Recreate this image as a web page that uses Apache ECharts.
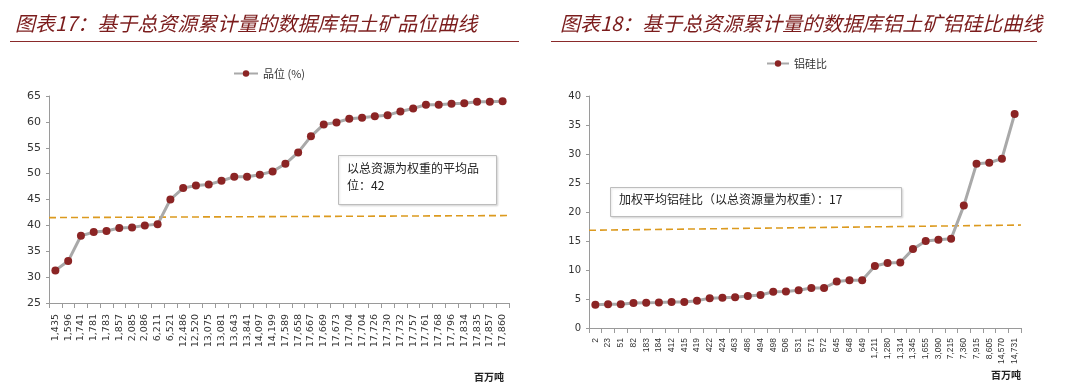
<!DOCTYPE html>
<html><head><meta charset="utf-8">
<script src="https://cdn.jsdelivr.net/npm/echarts@6/dist/echarts.min.js"></script>
<style>html,body{margin:0;padding:0;background:#fff}#c{width:1085px;height:392px}</style>
</head><body><div id="c"></div>
<script>
const cats1 = ['1,435','1,596','1,741','1,781','1,783','1,857','2,085','2,086','6,211','6,521','12,486','12,520','13,075','13,081','13,643','13,841','14,097','14,199','17,589','17,658','17,667','17,669','17,673','17,704','17,704','17,726','17,730','17,732','17,757','17,761','17,768','17,796','17,834','17,835','17,857','17,860'];
const grade = [31.3,33.1,38.0,38.7,38.9,39.5,39.6,40.0,40.2,45.0,47.2,47.7,47.9,48.6,49.4,49.4,49.8,50.4,51.9,54.1,57.2,59.5,59.9,60.6,60.8,61.1,61.3,62.0,62.6,63.3,63.3,63.5,63.6,63.9,63.9,64.0];
const avg1 = [41.5, 41.9];
const yTicks1 = {min:25, max:65, interval:5};

const cats2 = ['2','23','51','82','183','184','412','415','419','422','424','463','486','494','498','506','531','571','572','645','648','649','1,211','1,280','1,314','1,345','1,655','3,090','7,215','7,360','7,915','8,605','14,570','14,731'];
const ratio = [4.0,4.1,4.1,4.3,4.35,4.4,4.5,4.5,4.7,5.15,5.2,5.3,5.5,5.7,6.25,6.3,6.5,6.9,6.9,8.0,8.25,8.25,10.7,11.2,11.3,13.6,15.0,15.2,15.4,21.1,28.3,28.5,29.2,36.9];
const avg2 = [16.85, 17.75];
const yTicks2 = {min:0, max:40, interval:5};

const title1 = '图表17：基于总资源累计量的数据库铝土矿品位曲线';
const title2 = '图表18：基于总资源累计量的数据库铝土矿铝硅比曲线';
const note1 = ['以总资源为权重的平均品', '位：42'];
const note2 = '加权平均铝硅比（以总资源量为权重）：17';

const RED = '#8B2424', GREY = '#a9a9a9', ORANGE = '#dc9a1f', AX = '#9a9a9a', TXT = '#333';
const cjk = '"Noto Sans CJK SC", sans-serif';
const tfont = 'Verdana, "DejaVu Sans", sans-serif';
const nfont = '"Liberation Sans", Arial, sans-serif';

function catAxis(i, cats, fs, ff, margin){
  return {type:'category', gridIndex:i, data:cats, boundaryGap:true,
    axisLine:{lineStyle:{color:AX}}, axisTick:{show:true, interval:0, length:5, lineStyle:{color:AX}},
    axisLabel:{rotate:90, interval:0, fontSize:fs, color:TXT, fontFamily:ff, margin:margin}};
}
function hidAxis(i){ return {type:'value', gridIndex:i, min:0, max:1, show:false}; }
function valAxis(i, t, fs){
  return {type:'value', gridIndex:i, min:t.min, max:t.max, interval:t.interval,
    axisLine:{show:true, lineStyle:{color:AX}}, axisTick:{show:true, length:3, lineStyle:{color:AX}},
    splitLine:{show:false}, axisLabel:{fontSize:fs, color:TXT, fontFamily:tfont, margin:8}};
}
function lineSeries(name, data, xi, yi){
  return {name, type:'line', xAxisIndex:xi, yAxisIndex:yi, data, symbol:'circle', symbolSize:8,
    lineStyle:{color:GREY, width:3}, itemStyle:{color:RED}, z:3};
}
function avgSeries(v, xi, yi){
  return {type:'line', xAxisIndex:xi, yAxisIndex:yi, data:[[0,v[0]],[1,v[1]]], symbol:'none',
    lineStyle:{color:ORANGE, width:1.6, type:[7,4]}, silent:true, z:2};
}

const chart = echarts.init(document.getElementById('c'), null, {renderer:'canvas'});
chart.setOption({
  animation:false,
  title:[
    {text:title1, left:10, top:8, textStyle:{color:'#7b1c1c', fontSize:20, fontWeight:'normal', fontStyle:'italic', fontFamily:cjk}},
    {text:title2, left:555, top:8, textStyle:{color:'#7b1c1c', fontSize:20, fontWeight:'normal', fontStyle:'italic', fontFamily:cjk}}
  ],
  legend:[
    {data:['品位 (%)'], left:228, top:63, itemWidth:24, itemHeight:8, itemGap:3,
      textStyle:{fontSize:11, color:TXT, fontFamily:cjk}},
    {data:['铝硅比'], left:761, top:53, itemWidth:22, itemHeight:8, itemGap:3,
      textStyle:{fontSize:11, color:TXT, fontFamily:cjk}}
  ],
  grid:[
    {left:49, right:576, top:96, bottom:89},
    {left:589, right:64, top:96, bottom:64}
  ],
  xAxis:[catAxis(0, cats1, 9.5, tfont, 11), hidAxis(0), catAxis(1, cats2, 8.5, nfont, 10), hidAxis(1)],
  yAxis:[valAxis(0, yTicks1, 11), valAxis(1, yTicks2, 10)],
  series:[
    avgSeries(avg1, 1, 0),
    lineSeries('品位 (%)', grade, 0, 0),
    avgSeries(avg2, 3, 1),
    lineSeries('铝硅比', ratio, 2, 1)
  ],
  graphic:[
    {type:'line', shape:{x1:10, y1:41.5, x2:519, y2:41.5}, style:{stroke:'#8a2a2a', lineWidth:1}},
    {type:'line', shape:{x1:551, y1:41.5, x2:1037, y2:41.5}, style:{stroke:'#8a2a2a', lineWidth:1}},
    {type:'rect', shape:{x:338.5, y:155.5, width:158, height:49}, style:{fill:'#fff', stroke:'#bdbdbd', lineWidth:1, shadowBlur:2, shadowColor:'rgba(0,0,0,0.12)', shadowOffsetX:1, shadowOffsetY:1}, z:10},
    {type:'text', left:347, top:162, style:{text:note1[0], fontSize:12, fill:'#222', fontFamily:cjk}, z:11},
    {type:'text', left:347, top:179, style:{text:note1[1], fontSize:12, fill:'#222', fontFamily:cjk}, z:11},
    {type:'rect', shape:{x:610.5, y:187.5, width:291, height:29}, style:{fill:'#fff', stroke:'#bdbdbd', lineWidth:1, shadowBlur:2, shadowColor:'rgba(0,0,0,0.12)', shadowOffsetX:1, shadowOffsetY:1}, z:10},
    {type:'text', left:619, top:193, style:{text:note2, fontSize:12, fill:'#222', fontFamily:cjk}, z:11},
    {type:'text', left:474, top:372, style:{text:'百万吨', fontSize:10, fontWeight:'bold', fill:'#222', fontFamily:cjk}},
    {type:'text', left:991, top:370, style:{text:'百万吨', fontSize:10, fontWeight:'bold', fill:'#222', fontFamily:cjk}}
  ]
});
</script></body></html>
